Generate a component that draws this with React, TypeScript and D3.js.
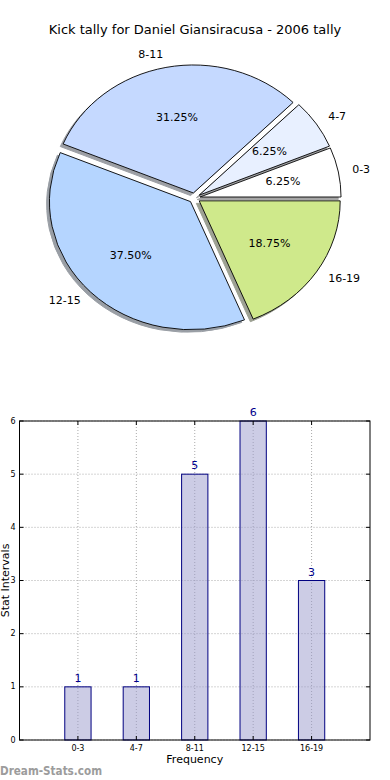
import React from "react";
import * as d3 from "d3";

// pie data
const categories = ["0-3", "4-7", "8-11", "12-15", "16-19"];
const counts = [1, 1, 5, 6, 3];
const sliceColors = ["#ffffff", "#e8f0ff", "#c5d9ff", "#b5d5ff", "#cfe98b"];
const explode = [0.04, 0.04, 0.04, 0.04, 0.04];
const yTicks = [0, 1, 2, 3, 4, 5, 6];

const title = "Kick tally for Daniel Giansiracusa - 2006 tally";
const font = "DejaVu Sans, sans-serif";

const PieChart = () => {
  const cx = 194.5, cy = 198, rx = 141, ry = 128;
  const total = d3.sum(counts);
  // matplotlib goes counterclockwise from 3 o'clock
  const createPie = d3
    .pie<number>()
    .value(d => d)
    .sort(null)
    .startAngle(Math.PI / 2)
    .endAngle(Math.PI / 2 - 2 * Math.PI);
  const createArc = d3.arc<any>().innerRadius(0).outerRadius(1);
  const arcs = createPie(counts);
  const fmt = d3.format(".2f");

  const info = arcs.map((a, i) => {
    const mid = (a.startAngle + a.endAngle) / 2;
    const ux = Math.sin(mid), uy = -Math.cos(mid);
    const ox = explode[i] * ux, oy = explode[i] * uy;
    return { a, i, ux, uy, ox, oy };
  });

  const shade = (c: string) => {
    const rgb = d3.rgb(c);
    return d3.rgb(rgb.r * 0.3, rgb.g * 0.3, rgb.b * 0.3).toString();
  };

  return (
    <g>
      <text x={195} y={30} textAnchor="middle" dominantBaseline="middle" fontSize={13} fontFamily={font}>
        {title}
      </text>
      {/* shadows */}
      {info.map(d => (
        <g key={"s" + d.i} transform={`translate(${cx - 0.02 * rx} ${cy + 0.02 * ry}) scale(${rx} ${ry})`}>
          <path
            d={createArc(d.a) || ""}
            transform={`translate(${d.ox} ${d.oy})`}
            fill={shade(sliceColors[d.i])}
            stroke={shade(sliceColors[d.i])}
            opacity={0.5}
            strokeWidth={1}
            vectorEffect="non-scaling-stroke"
          />
        </g>
      ))}
      {info.map(d => (
        <g key={"w" + d.i} transform={`translate(${cx} ${cy}) scale(${rx} ${ry})`}>
          <path
            d={createArc(d.a) || ""}
            transform={`translate(${d.ox} ${d.oy})`}
            fill={sliceColors[d.i]}
            stroke="#000"
            strokeWidth={0.9}
            vectorEffect="non-scaling-stroke"
          />
        </g>
      ))}
      {info.map(d => {
        const lx = cx + (d.ox + 1.1 * d.ux) * rx;
        const ly = cy + (d.oy + 1.1 * d.uy) * ry;
        const px = cx + (d.ox + 0.6 * d.ux) * rx;
        const py = cy + (d.oy + 0.6 * d.uy) * ry;
        return (
          <g key={"t" + d.i} fontFamily={font} fontSize={11}>
            <text x={lx} y={ly} textAnchor={d.ux > 0 ? "start" : "end"} dominantBaseline="middle">
              {categories[d.i]}
            </text>
            <text x={px} y={py} textAnchor="middle" dominantBaseline="middle">
              {fmt((counts[d.i] / total) * 100)}%
            </text>
          </g>
        );
      })}
    </g>
  );
};

const BarChart = () => {
  const left = 19.5, right = 370, top = 421, bottom = 740;
  const x = d3.scaleLinear().domain([0, categories.length + 1]).range([left, right]);
  const y = d3.scaleLinear().domain([0, 6]).range([bottom, top]);
  const barW = 0.45;
  const tickLen = 4;

  return (
    <g fontFamily={font}>
      {/* grid */}
      {yTicks.map(t => (
        <line key={"gy" + t} x1={left} x2={right} y1={y(t)} y2={y(t)} stroke="#aaa" strokeDasharray="1,2" />
      ))}
      {categories.map((c, i) => (
        <line key={"gx" + c} x1={x(i + 1)} x2={x(i + 1)} y1={top} y2={bottom} stroke="#aaa" strokeDasharray="1,2" />
      ))}
      {/* bars */}
      {counts.map((v, i) => (
        <g key={"b" + i}>
          <rect
            x={x(i + 1 - barW / 2)}
            y={y(v)}
            width={x(barW) - x(0)}
            height={y(0) - y(v)}
            fill="#9999cc"
            fillOpacity={0.5}
            stroke="#000080"
            strokeWidth={1}
          />
          <text x={x(i + 1)} y={y(v) - 5} textAnchor="middle" fontSize={11} fill="#00008b">
            {v}
          </text>
        </g>
      ))}
      {/* frame */}
      <rect x={left} y={top} width={right - left} height={bottom - top} fill="none" stroke="#000" strokeWidth={1} />
      {/* ticks */}
      {yTicks.map(t => (
        <g key={"ty" + t}>
          <line x1={left} x2={left + tickLen} y1={y(t)} y2={y(t)} stroke="#000" />
          <line x1={right} x2={right - tickLen} y1={y(t)} y2={y(t)} stroke="#000" />
          <text x={left - 4} y={y(t)} textAnchor="end" dominantBaseline="middle" fontSize={8}>
            {t}
          </text>
        </g>
      ))}
      {categories.map((c, i) => (
        <g key={"tx" + c}>
          <line x1={x(i + 1)} x2={x(i + 1)} y1={bottom} y2={bottom - tickLen} stroke="#000" />
          <line x1={x(i + 1)} x2={x(i + 1)} y1={top} y2={top + tickLen} stroke="#000" />
          <text x={x(i + 1)} y={bottom + 8} textAnchor="middle" dominantBaseline="middle" fontSize={8}>
            {c}
          </text>
        </g>
      ))}
      <text x={(left + right) / 2} y={760} textAnchor="middle" dominantBaseline="middle" fontSize={11}>
        Frequency
      </text>
      <text
        transform={`translate(9 ${(top + bottom) / 2}) rotate(-90)`}
        textAnchor="middle"
        fontSize={11}
      >
        Stat Intervals
      </text>
    </g>
  );
};

const App = () => (
  <svg width={390} height={780} style={{ position: "absolute", left: 0, top: 0, background: "#fff" }}>
    <rect width={390} height={780} fill="#fff" />
    <PieChart />
    <BarChart />
    <text
      x={0}
      y={775}
      fontSize={11.5}
      fontFamily={font}
      fill="#9c9c9c"
      fontWeight="bold"
      textLength={102}
      lengthAdjust="spacingAndGlyphs"
    >
      Dream-Stats.com
    </text>
  </svg>
);

export default App;
